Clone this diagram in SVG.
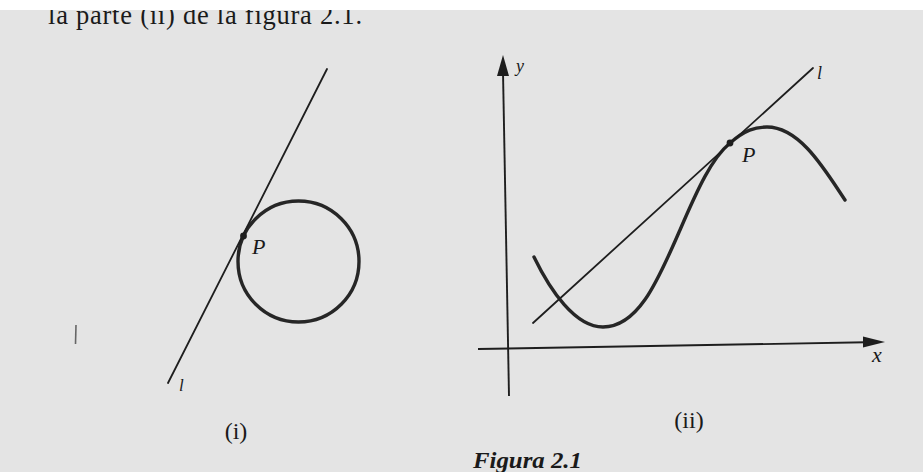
<svg xmlns="http://www.w3.org/2000/svg" width="923" height="472" viewBox="0 0 923 472">
  <defs>
    <style>
      .thin { fill: none; stroke: #1e1e1e; stroke-width: 1.8; stroke-linecap: round; }
      .thick { fill: none; stroke: #262626; stroke-width: 3.4; stroke-linecap: round; }
      .axis { fill: none; stroke: #1e1e1e; stroke-width: 1.9; }
      .lbl { font-family: "Liberation Serif", "Times New Roman", serif; fill: #1a1a1a; }
      .it { font-style: italic; }
      .dot { fill: #1e1e1e; }
    </style>
  </defs>
  <rect x="0" y="0" width="923" height="472" fill="#e4e4e4"/>

  <text class="lbl" x="48" y="23.5" font-size="26.5" textLength="314" lengthAdjust="spacing">la parte (ii) de la figura 2.1.</text>
  <rect x="0" y="0" width="923" height="10" fill="#ffffff"/>

  <path d="M76,325 L75.5,344" stroke="#666" stroke-width="1.6" fill="none"/>

  <g id="figure-i">
    <circle class="thick" cx="298.5" cy="261.5" r="60.5"/>
    <line class="thin" x1="327" y1="69" x2="168" y2="383"/>
    <circle class="dot" cx="243.5" cy="236" r="3.4"/>
    <text class="lbl it" x="252" y="254" font-size="22">P</text>
    <text class="lbl it" x="179" y="391" font-size="17">l</text>
    <text class="lbl" x="236" y="439" font-size="24" text-anchor="middle">(i)</text>
  </g>

  <g id="figure-ii">
    <g id="axes">
      <line class="axis" x1="503" y1="72" x2="509" y2="396"/>
      <polygon class="dot" points="503,55 497,76 509,76"/>
      <text class="lbl it" x="516" y="72" font-size="18">y</text>
      <line class="axis" x1="478" y1="349" x2="866" y2="342.3"/>
      <polygon class="dot" points="885,342 863,336.5 863,347.5"/>
      <text class="lbl it" x="872" y="362" font-size="22">x</text>
    </g>
    <path class="thick" d="M534,257 C550,290 575,327 603,327 C640,327 660,275 680,230 C698,188 712,158 730,143 C745,130 755,127 767,127 C800,127 825,170 845,200"/>
    <line class="thin" x1="813" y1="68" x2="533" y2="323"/>
    <circle class="dot" cx="730" cy="143" r="3.4"/>
    <text class="lbl it" x="742" y="162" font-size="22">P</text>
    <text class="lbl it" x="817" y="79" font-size="18">l</text>
    <text class="lbl" x="689" y="428" font-size="24" text-anchor="middle">(ii)</text>
  </g>

  <text class="lbl" x="473" y="468" font-size="24" font-weight="bold" font-style="italic" textLength="109" lengthAdjust="spacingAndGlyphs">Figura 2.1</text>
</svg>
